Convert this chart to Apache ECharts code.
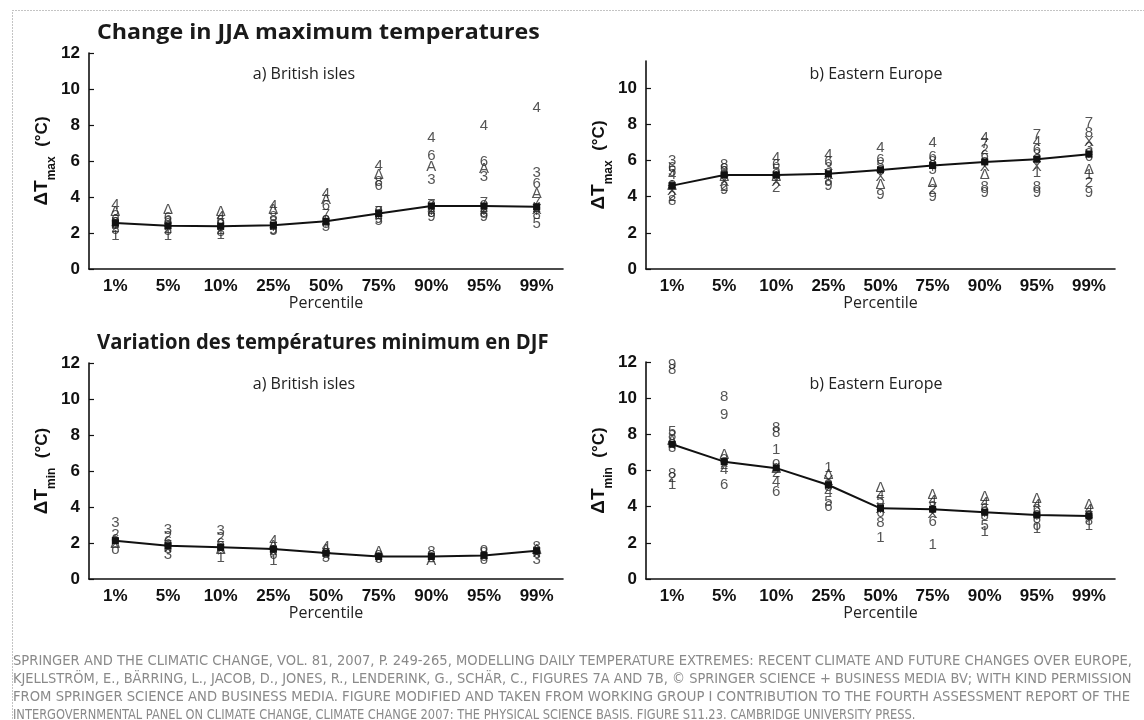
<!DOCTYPE html>
<html><head><meta charset="utf-8">
<script src="https://cdn.jsdelivr.net/npm/echarts@6/dist/echarts.min.js"></script>
<style>html,body{margin:0;padding:0;background:#fff}#c{width:1144px;height:720px}</style>
</head><body><div id="c"></div>
<script>
const percentiles = ['1%','5%','10%','25%','50%','75%','90%','95%','99%'];
const yTicks = [0,2,4,6,8,10,12];
const yTicksNoTop = [0,2,4,6,8,10];

const jjaBritishMean = [2.56,2.4,2.38,2.43,2.65,3.08,3.5,3.5,3.46];
const jjaBritishModels = [
 [0,3.55,'4'],[0,3.2,'Δ'],[0,2.95,'3'],[0,2.75,'6'],[0,2.45,'8'],[0,2.3,'2'],[0,2.15,'5'],[0,1.85,'1'],
 [1,3.3,'Δ'],[1,2.85,'6'],[1,2.6,'3'],[1,2.25,'2'],[1,2.1,'5'],[1,1.85,'1'],
 [2,3.2,'Δ'],[2,2.9,'4'],[2,2.65,'6'],[2,2.2,'2'],[2,2.05,'8'],[2,1.9,'1'],
 [3,3.5,'4'],[3,3.3,'Δ'],[3,2.9,'8'],[3,2.6,'3'],[3,2.2,'9'],[3,2.1,'5'],
 [4,4.2,'4'],[4,3.85,'A'],[4,3.5,'6'],[4,3.0,'7'],[4,2.7,'2'],[4,2.5,'8'],[4,2.35,'5'],
 [5,5.75,'4'],[5,5.25,'Δ'],[5,4.85,'8'],[5,4.6,'6'],[5,3.2,'7'],[5,3.0,'2'],[5,2.8,'9'],[5,2.65,'5'],
 [6,7.3,'4'],[6,6.3,'6'],[6,5.7,'A'],[6,4.95,'3'],[6,3.55,'7'],[6,3.3,'2'],[6,3.1,'8'],[6,2.9,'9'],
 [7,7.95,'4'],[7,5.95,'6'],[7,5.55,'A'],[7,5.1,'3'],[7,3.7,'7'],[7,3.3,'2'],[7,3.05,'8'],[7,2.9,'9'],
 [8,8.95,'4'],[8,5.35,'3'],[8,4.75,'6'],[8,4.2,'A'],[8,3.65,'7'],[8,3.3,'X'],[8,3.0,'8'],[8,2.5,'5'],
 [0,2.65,'o'],[0,2.5,'x'],[0,2.4,'+'],[1,2.6,'o'],[1,2.45,'x'],[1,2.35,'+'],
 [2,2.55,'o'],[2,2.4,'x'],[2,2.3,'+'],[3,2.55,'o'],[3,2.4,'x'],[3,2.3,'+'],
 [4,2.8,'o'],[4,2.6,'x'],[4,2.5,'+'],[5,3.3,'o'],[5,3.1,'x'],[5,2.95,'+'],
 [6,3.6,'o'],[6,3.45,'x'],[6,3.2,'+'],[7,3.6,'o'],[7,3.45,'x'],[7,3.2,'+'],
 [8,3.5,'x'],[8,3.4,'o'],[8,3.15,'+']
];

const jjaEasternMean = [4.61,5.2,5.2,5.26,5.48,5.72,5.92,6.07,6.35];
const jjaEasternModels = [
 [0,5.98,'3'],[0,5.57,'6'],[0,5.39,'5'],[0,5.2,'4'],[0,4.6,'Δ'],[0,4.3,'X'],[0,4.0,'2'],[0,3.75,'8'],
 [1,5.76,'8'],[1,5.55,'6'],[1,5.35,'3'],[1,5.1,'Δ'],[1,4.8,'X'],[1,4.56,'2'],[1,4.37,'9'],
 [2,6.13,'4'],[2,5.76,'6'],[2,5.5,'5'],[2,5.1,'Δ'],[2,4.8,'X'],[2,4.47,'2'],
 [3,6.31,'4'],[3,5.94,'6'],[3,5.6,'3'],[3,5.2,'X'],[3,4.9,'8'],[3,4.6,'9'],
 [4,6.68,'4'],[4,6.03,'6'],[4,5.7,'5'],[4,5.1,'X'],[4,4.65,'Δ'],[4,4.1,'9'],
 [5,6.96,'4'],[5,6.2,'6'],[5,5.9,'8'],[5,5.5,'5'],[5,4.74,'Δ'],[5,4.37,'2'],[5,4.0,'9'],
 [6,7.23,'4'],[6,6.9,'7'],[6,6.59,'2'],[6,6.25,'6'],[6,5.66,'X'],[6,5.2,'Δ'],[6,4.56,'8'],[6,4.2,'9'],
 [7,7.42,'7'],[7,7.05,'4'],[7,6.6,'6'],[7,6.3,'3'],[7,5.66,'X'],[7,5.3,'1'],[7,4.56,'8'],[7,4.2,'9'],
 [8,8.06,'7'],[8,7.5,'8'],[8,7.05,'X'],[8,6.7,'3'],[8,6.2,'6'],[8,5.48,'Δ'],[8,5.2,'1'],[8,4.74,'2'],[8,4.19,'9'],
 [0,4.7,'o'],[0,4.5,'+'],[1,5.3,'o'],[1,5.1,'+'],[2,5.3,'o'],[2,5.05,'+'],[3,5.35,'o'],[3,5.1,'+'],
 [4,5.55,'o'],[4,5.35,'+'],[5,5.8,'o'],[5,5.6,'+'],[6,6.0,'o'],[6,5.8,'+'],[7,6.15,'o'],[7,5.95,'+'],
 [8,6.45,'o'],[8,6.3,'+']
];

const djfBritishMean = [2.13,1.85,1.76,1.66,1.44,1.25,1.25,1.31,1.57];
const djfBritishModels = [
 [0,3.1,'3'],[0,2.45,'2'],[0,2.2,'6'],[0,1.95,'Δ'],[0,1.6,'o'],
 [1,2.75,'3'],[1,2.35,'2'],[1,2.05,'6'],[1,1.7,'8'],[1,1.35,'3'],
 [2,2.65,'3'],[2,2.3,'2'],[2,1.95,'6'],[2,1.6,'Δ'],[2,1.2,'1'],
 [3,2.1,'4'],[3,1.85,'Δ'],[3,1.55,'8'],[3,1.35,'6'],[3,1.0,'1'],
 [4,1.8,'4'],[4,1.6,'Δ'],[4,1.4,'8'],[4,1.2,'5'],
 [5,1.5,'Δ'],[5,1.3,'8'],[5,1.1,'6'],
 [6,1.5,'8'],[6,1.3,'6'],[6,1.0,'A'],
 [7,1.7,'o'],[7,1.45,'8'],[7,1.25,'6'],[7,1.05,'o'],
 [8,1.8,'8'],[8,1.6,'Δ'],[8,1.4,'6'],[8,1.05,'3'],
 [0,2.15,'o'],[0,2.0,'x'],[1,1.9,'o'],[1,1.75,'x'],[2,1.8,'o'],[2,1.7,'x'],[3,1.7,'o'],[3,1.55,'x'],
 [4,1.5,'o'],[4,1.35,'x'],[5,1.3,'o'],[5,1.2,'x'],[6,1.3,'o'],[6,1.2,'x'],[7,1.35,'x'],[8,1.55,'o'],[8,1.45,'x']
];

const djfEasternMean = [7.45,6.49,6.13,5.2,3.91,3.86,3.69,3.54,3.49];
const djfEasternModels = [
 [0,11.85,'9'],[0,11.57,'8'],[0,8.15,'5'],[0,7.9,'8'],[0,7.65,'Δ'],[0,7.23,'3'],[0,5.8,'8'],[0,5.57,'2'],[0,5.2,'1'],
 [1,10.09,'8'],[1,9.08,'9'],[1,6.86,'Δ'],[1,6.6,'3'],[1,6.3,'2'],[1,6.03,'4'],[1,5.2,'6'],
 [2,8.34,'8'],[2,8.06,'8'],[2,7.14,'1'],[2,6.4,'o'],[2,6.1,'Δ'],[2,5.85,'2'],[2,5.39,'4'],[2,4.83,'6'],
 [3,6.13,'1'],[3,5.76,'Δ'],[3,5.4,'X'],[3,5.1,'8'],[3,4.83,'4'],[3,4.28,'5'],[3,4.0,'6'],
 [4,5.02,'Δ'],[4,4.6,'4'],[4,4.3,'5'],[4,3.9,'X'],[4,3.63,'6'],[4,3.08,'8'],[4,2.25,'1'],
 [5,4.65,'Δ'],[5,4.3,'4'],[5,4.0,'8'],[5,3.6,'X'],[5,3.17,'6'],[5,1.88,'1'],
 [6,4.56,'Δ'],[6,4.2,'4'],[6,3.9,'6'],[6,3.5,'8'],[6,2.95,'5'],[6,2.6,'1'],
 [7,4.45,'Δ'],[7,4.1,'4'],[7,3.8,'6'],[7,3.35,'8'],[7,2.95,'o'],[7,2.75,'1'],
 [8,4.1,'Δ'],[8,3.8,'4'],[8,3.5,'6'],[8,3.2,'8'],[8,2.95,'1'],
 [0,7.55,'o'],[0,7.4,'x'],[1,6.55,'o'],[1,6.4,'x'],[2,6.2,'x'],[3,5.3,'o'],[3,5.15,'+'],
 [4,4.0,'o'],[4,3.8,'+'],[5,3.9,'o'],[5,3.75,'+'],[6,3.75,'o'],[6,3.6,'+'],[7,3.6,'o'],[7,3.45,'+'],
 [8,3.55,'o'],[8,3.4,'+']
];

const titleTop = 'Change in JJA maximum temperatures';
const titleBottom = 'Variation des températures minimum en DJF';
const panelNames = ['a) British isles','b) Eastern Europe','a) British isles','b) Eastern Europe'];
const footerLines = [
 'SPRINGER AND THE CLIMATIC CHANGE, VOL. 81, 2007, P. 249-265, MODELLING DAILY TEMPERATURE EXTREMES: RECENT CLIMATE AND FUTURE CHANGES OVER EUROPE,',
 'KJELLSTRÖM, E., BÄRRING, L., JACOB, D., JONES, R., LENDERINK, G., SCHÄR, C., FIGURES 7A AND 7B, © SPRINGER SCIENCE + BUSINESS MEDIA BV; WITH KIND PERMISSION',
 'FROM SPRINGER SCIENCE AND BUSINESS MEDIA. FIGURE MODIFIED AND TAKEN FROM WORKING GROUP I CONTRIBUTION TO THE FOURTH ASSESSMENT REPORT OF THE',
 'INTERGOVERNMENTAL PANEL ON CLIMATE CHANGE, CLIMATE CHANGE 2007: THE PHYSICAL SCIENCE BASIS. FIGURE S11.23. CAMBRIDGE UNIVERSITY PRESS.'
];
const footerScale = [1.044, 1.033, 1.046, 0.909];

const chart = echarts.init(document.getElementById('c'), null, {renderer:'canvas'});

const grids = [
 {left:89, top:53, width:474, height:216},
 {left:646, top:61, width:469, height:208},
 {left:89, top:363, width:474, height:216},
 {left:646, top:362, width:469, height:217}
];
const yMax = [12, 11.5, 12, 12];
const yName = ['max','max','min','min'];
const means = [jjaBritishMean, jjaEasternMean, djfBritishMean, djfEasternMean];
const models = [jjaBritishModels, jjaEasternModels, djfBritishModels, djfEasternModels];

const axisFont = 'Liberation Sans';
const xAxes = [], yAxes = [], series = [];
for (let i = 0; i < 4; i++) {
  const ticks = yMax[i] === 12 ? yTicks : yTicksNoTop;
  xAxes.push({
    type:'category', gridIndex:i, data:percentiles, boundaryGap:true,
    axisLine:{lineStyle:{color:'#111', width:1.6}},
    axisTick:{inside:true, alignWithLabel:true, length:5, lineStyle:{color:'#111', width:1.2}},
    axisLabel:{fontFamily:axisFont, fontWeight:'bold', fontSize:17, color:'#111', margin:9},
    name:'Percentile', nameLocation:'middle', nameGap:21,
    nameTextStyle:{fontFamily:'Open Sans', fontSize:16, color:'#222'}
  });
  yAxes.push({
    type:'value', gridIndex:i, min:0, max:yMax[i], interval:2,
    axisLine:{show:true, lineStyle:{color:'#111', width:1.6}},
    axisTick:{show:true, inside:true, length:5, customValues:ticks, lineStyle:{color:'#111', width:1.2}},
    axisLabel:{fontFamily:axisFont, fontWeight:'bold', fontSize:17, color:'#111', margin:9, customValues:ticks},
    splitLine:{show:false},
    name:'{d|ΔT}{s|' + yName[i] + '}{c|  (°C)}', nameLocation:'middle', nameGap:31, nameRotate:90,
    nameTextStyle:{rich:{
      d:{fontFamily:axisFont, fontWeight:'bold', fontSize:19, color:'#111', lineHeight:30},
      s:{fontFamily:axisFont, fontWeight:'bold', fontSize:12, color:'#111', lineHeight:13, verticalAlign:'bottom'},
      c:{fontFamily:axisFont, fontWeight:'bold', fontSize:17, color:'#111', lineHeight:30}
    }}
  });
  series.push({
    type:'scatter', xAxisIndex:i, yAxisIndex:i, symbolSize:1,
    itemStyle:{color:'rgba(0,0,0,0)'},
    data: models[i].map(m => ({value:[m[0], m[1]], name:m[2]})),
    label:{show:true, position:'inside', formatter:p => p.name,
      fontFamily:axisFont, fontSize:15, color:'#2a2a2a'},
    labelLayout:{hideOverlap:false},
    silent:true, z:3
  });
  series.push({
    type:'line', xAxisIndex:i, yAxisIndex:i, data:means[i],
    symbol:'rect', symbolSize:7, showSymbol:true,
    lineStyle:{color:'#111', width:2}, itemStyle:{color:'#111'}, silent:true, z:4
  });
}

const graphic = [
  {type:'rect', shape:{x:12.5, y:10.5, width:1145, height:730}, style:{fill:'none', stroke:'#888', lineWidth:1, lineDash:[1,2]}},
  {type:'text', x:97, y:33, scaleX:1.055, style:{text:titleTop, font:'bold 22px "Open Sans"', fill:'#1a1a1a', verticalAlign:'middle'}},
  {type:'text', x:97, y:343, scaleX:0.92, style:{text:titleBottom, font:'bold 22px "Open Sans"', fill:'#1a1a1a', verticalAlign:'middle'}},
  {type:'text', x:304, y:74, style:{text:panelNames[0], font:'16px "Open Sans"', fill:'#222', align:'center', verticalAlign:'middle'}},
  {type:'text', x:876, y:74, style:{text:panelNames[1], font:'16px "Open Sans"', fill:'#222', align:'center', verticalAlign:'middle'}},
  {type:'text', x:304, y:384, style:{text:panelNames[2], font:'16px "Open Sans"', fill:'#222', align:'center', verticalAlign:'middle'}},
  {type:'text', x:876, y:384, style:{text:panelNames[3], font:'16px "Open Sans"', fill:'#222', align:'center', verticalAlign:'middle'}}
];
footerLines.forEach((t, k) => {
  graphic.push({type:'text', x:13, y:661 + k*18, scaleX:footerScale[k], style:{text:t, font:'14px "Liberation Sans Narrow", "DejaVu Sans Condensed", sans-serif', fill:'#8a8a8a', verticalAlign:'middle'}});
});

chart.setOption({
  animation:false,
  grid:grids, xAxis:xAxes, yAxis:yAxes, series:series, graphic:graphic
});
</script></body></html>
